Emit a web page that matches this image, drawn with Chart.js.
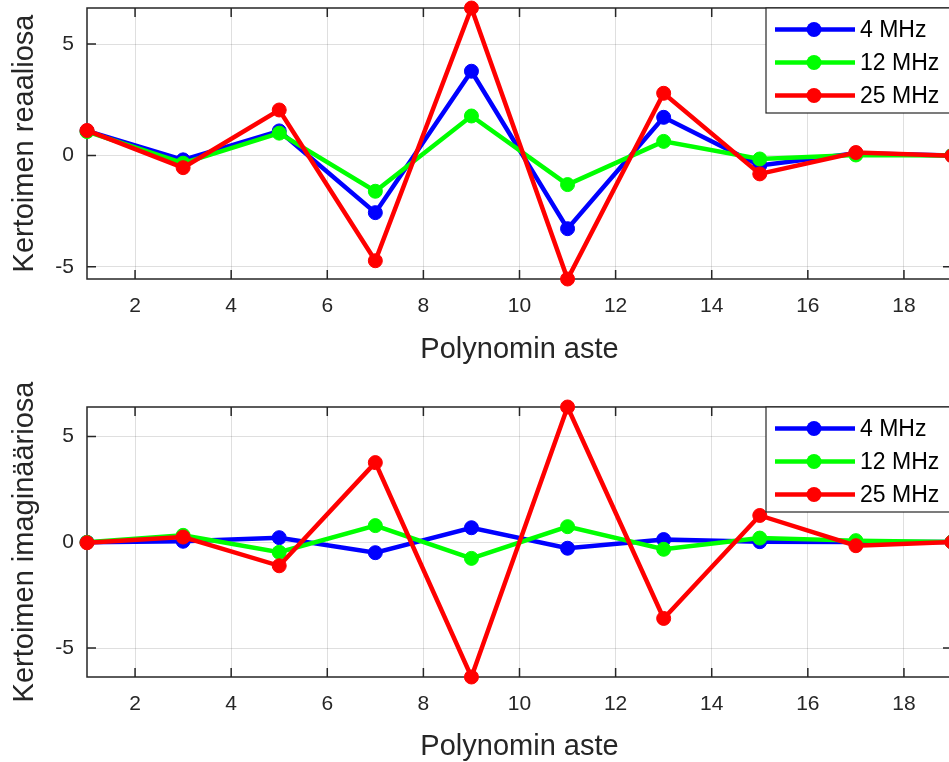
<!DOCTYPE html>
<html>
<head>
<meta charset="utf-8">
<script src="https://cdn.jsdelivr.net/npm/chart.js@4/dist/chart.umd.min.js"></script>
<style>
  html, body { margin: 0; padding: 0; background: #ffffff; overflow: hidden; }
  #wrap { width: 960px; height: 762px; position: relative; overflow: hidden; }
  canvas { display: block; position: absolute; left: 0; }
  #realPlot { top: 0; }
  #imagPlot { top: 355px; }
</style>
</head>
<body>
<div id="wrap">
  <canvas id="realPlot" width="960" height="390"></canvas>
  <canvas id="imagPlot" width="960" height="411"></canvas>
</div>
<script>
// Polynomial degrees (odd orders 1..19)
const degrees = [1, 3, 5, 7, 9, 11, 13, 15, 17, 19];
const seriesNames = ['4 MHz', '12 MHz', '25 MHz'];

// Real parts of the coefficients
const real4MHz  = [1.10, -0.20, 1.10, -2.57, 3.78, -3.29, 1.71, -0.45, 0.10, 0.00];
const real12MHz = [1.07, -0.35, 1.00, -1.61, 1.77, -1.31, 0.63, -0.16, 0.02, 0.00];
const real25MHz = [1.12, -0.55, 2.04, -4.73, 6.62, -5.55, 2.79, -0.83, 0.13, -0.02];

// Imaginary parts of the coefficients
const imag4MHz  = [0.00, 0.05, 0.22, -0.49, 0.69, -0.28, 0.13, 0.03, 0.02, 0.02];
const imag12MHz = [0.00, 0.33, -0.47, 0.79, -0.76, 0.74, -0.33, 0.20, 0.08, 0.02];
const imag25MHz = [-0.02, 0.25, -1.11, 3.77, -6.37, 6.40, -3.60, 1.27, -0.16, 0.01];

// Tick labels
const xTickValues = [2, 4, 6, 8, 10, 12, 14, 16, 18];
const yTickValues = [-5, 0, 5];

const seriesColors = ['#0000ff', '#00ff00', '#ff0000'];
const FONT = "'Liberation Sans', Arial, Helvetica, sans-serif";
const AXIS_COLOR = '#262626';
const GRID_COLOR = 'rgba(38,38,38,0.15)';
const TICK_LEN = 9;

// Box around the axes with inward tick marks on all four sides
const axesBoxPlugin = {
  id: 'axesBox',
  beforeDatasetsDraw(chart) {
    const { ctx, chartArea: a, scales: { x, y } } = chart;
    ctx.save();
    ctx.strokeStyle = AXIS_COLOR;
    ctx.lineWidth = 1.5;
    ctx.strokeRect(a.left, a.top, a.right - a.left, a.bottom - a.top);
    ctx.beginPath();
    x.ticks.forEach(t => {
      const px = x.getPixelForValue(t.value);
      ctx.moveTo(px, a.bottom); ctx.lineTo(px, a.bottom - TICK_LEN);
      ctx.moveTo(px, a.top); ctx.lineTo(px, a.top + TICK_LEN);
    });
    y.ticks.forEach(t => {
      const py = y.getPixelForValue(t.value);
      ctx.moveTo(a.left, py); ctx.lineTo(a.left + TICK_LEN, py);
      ctx.moveTo(a.right, py); ctx.lineTo(a.right - TICK_LEN, py);
    });
    ctx.stroke();
    ctx.restore();
  }
};

// Boxed legend in the upper right corner, line + marker per series
const boxLegendPlugin = {
  id: 'boxLegend',
  afterDatasetsDraw(chart) {
    const { ctx, chartArea: a } = chart;
    const w = 186, h = 105;
    const left = a.right - w, top = a.top;
    ctx.save();
    ctx.fillStyle = '#ffffff';
    ctx.fillRect(left, top, w, h);
    ctx.strokeStyle = AXIS_COLOR;
    ctx.lineWidth = 1.2;
    ctx.strokeRect(left, top, w, h);
    const rows = [21.5, 54.5, 87.5];
    chart.data.datasets.forEach((ds, i) => {
      const yy = top + rows[i];
      ctx.strokeStyle = ds.borderColor;
      ctx.lineWidth = ds.borderWidth;
      ctx.beginPath();
      ctx.moveTo(left + 9, yy);
      ctx.lineTo(left + 89, yy);
      ctx.stroke();
      ctx.fillStyle = ds.backgroundColor;
      ctx.beginPath();
      ctx.arc(left + 48, yy, ds.pointRadius + 0.5, 0, Math.PI * 2);
      ctx.fill();
      ctx.fillStyle = '#000000';
      ctx.font = '23px ' + FONT;
      ctx.textBaseline = 'middle';
      ctx.textAlign = 'left';
      ctx.fillText(ds.label, left + 94, yy + 1);
    });
    ctx.restore();
  }
};

function makePlot(canvasId, yTitle, seriesValues, cfg) {
  const all = seriesValues.flat();
  const datasets = seriesValues.map((vals, i) => ({
    label: seriesNames[i],
    data: degrees.map((d, k) => ({ x: d, y: vals[k] })),
    borderColor: seriesColors[i],
    backgroundColor: seriesColors[i],
    pointBackgroundColor: seriesColors[i],
    pointBorderColor: seriesColors[i],
    borderWidth: 4.5,
    pointRadius: 7,
    pointBorderWidth: 1,
    tension: 0,
    clip: false,
    order: 3 - i
  }));
  return new Chart(document.getElementById(canvasId), {
    type: 'line',
    data: { datasets },
    plugins: [axesBoxPlugin, boxLegendPlugin],
    options: {
      responsive: false,
      animation: false,
      devicePixelRatio: 1,
      layout: { padding: { top: cfg.padTop, right: 6, left: 0, bottom: 0 } },
      plugins: { legend: { display: false }, tooltip: { enabled: false } },
      scales: {
        x: {
          type: 'linear',
          min: degrees[0],
          max: degrees[degrees.length - 1],
          afterBuildTicks: s => { s.ticks = xTickValues.map(v => ({ value: v })); },
          afterFit: s => { s.height = cfg.xHeight; s.paddingLeft = 0; s.paddingRight = 0; },
          grid: { color: GRID_COLOR, lineWidth: 1, drawTicks: false },
          border: { display: false },
          ticks: {
            autoSkip: false, maxRotation: 0, padding: 15,
            color: AXIS_COLOR, font: { family: FONT, size: 21 }
          },
          title: {
            display: true, text: 'Polynomin aste', color: AXIS_COLOR,
            font: { family: FONT, size: 29 },
            padding: { top: 0, bottom: cfg.xTitlePad }
          }
        },
        y: {
          type: 'linear',
          min: Math.min(...all),
          max: Math.max(...all),
          afterBuildTicks: s => { s.ticks = yTickValues.map(v => ({ value: v })); },
          afterFit: s => { s.width = 87; s.paddingTop = 0; s.paddingBottom = 0; },
          grid: { color: GRID_COLOR, lineWidth: 1, drawTicks: false },
          border: { display: false },
          ticks: {
            padding: 13, color: AXIS_COLOR, font: { family: FONT, size: 21 }
          },
          title: {
            display: true, text: yTitle, color: AXIS_COLOR,
            font: { family: FONT, size: 29 },
            padding: { top: 8, bottom: 0 }
          }
        }
      }
    }
  });
}

makePlot('realPlot', 'Kertoimen reaaliosa',
  [real4MHz, real12MHz, real25MHz],
  { padTop: 8, xHeight: 111, xTitlePad: 23 });

makePlot('imagPlot', 'Kertoimen imaginääriosa',
  [imag4MHz, imag12MHz, imag25MHz],
  { padTop: 52, xHeight: 89, xTitlePad: 2 });
</script>
</body>
</html>
